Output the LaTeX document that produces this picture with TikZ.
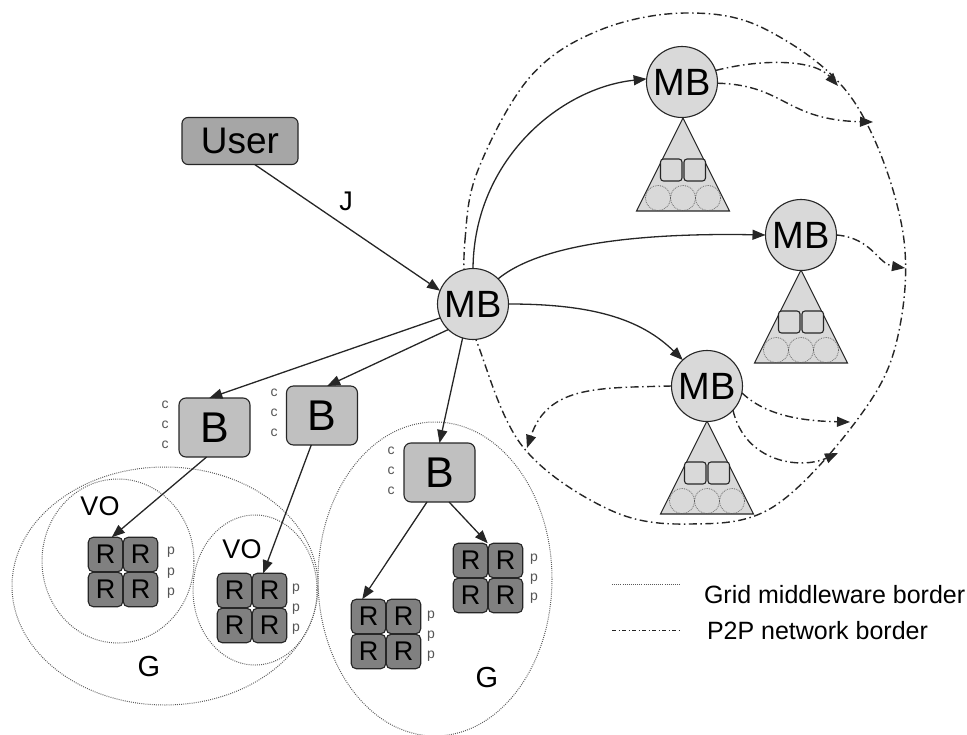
\documentclass[tikz,border=0pt]{standalone}
\usepackage{fontspec}
\setmainfont{Liberation Sans}
\usetikzlibrary{arrows.meta,calc}
\definecolor{mbgray}{HTML}{D9D9D9}
\definecolor{bgray}{HTML}{C0C0C0}
\definecolor{ugray}{HTML}{A6A6A6}
\definecolor{rgray}{HTML}{808080}
\definecolor{edge}{HTML}{262626}
\definecolor{small}{HTML}{555555}

\tikzset{
  every node/.style={inner sep=0pt, outer sep=0pt},
  outline/.style={draw=edge, line width=1.1pt},
  mb/.style={circle, outline, fill=mbgray, minimum size=71pt, font=\fontsize{38}{38}\selectfont},
  bbox/.style={rectangle, rounded corners=7pt, outline, fill=bgray, minimum width=71pt, minimum height=59pt, font=\fontsize{43}{43}\selectfont},
  ubox/.style={rectangle, rounded corners=6pt, outline, fill=ugray, minimum width=116pt, minimum height=47pt, font=\fontsize{37}{37}\selectfont},
  rbox/.style={rectangle, rounded corners=5pt, outline, fill=rgray, minimum size=34.5pt, font=\fontsize{27}{27}\selectfont},
  lbl/.style={font=\fontsize{27}{27}\selectfont},
  glbl/.style={font=\fontsize{29}{29}\selectfont},
  tiny/.style={text=small, font=\fontsize{14}{14}\selectfont},
  legend/.style={font=\fontsize{25}{25}\selectfont, anchor=west},
  link/.style={draw=edge, line width=1.3pt, -{Triangle[length=13pt,width=10pt]}},
  p2p/.style={draw=edge, line width=1.4pt, dash pattern=on 8pt off 3.5pt on 1.5pt off 3.5pt},
  p2plink/.style={p2p, -{Triangle[length=13pt,width=10pt]}},
  grid/.style={draw=black!65, line width=1pt, dash pattern=on 0.9pt off 1.2pt},
  mbtri/.pic={
    \draw[outline, fill=mbgray] (0,0) -- (-46.5,93) -- (46.5,93) -- cycle;
    \draw[outline, fill=mbgray, rounded corners=3pt] (-22.5,41) rectangle (-1,63);
    \draw[outline, fill=mbgray, rounded corners=3pt] (1,41) rectangle (22.5,63);
    \foreach \cx in {-25,0,25}
      \draw[draw=black!65, line width=0.7pt, dash pattern=on 0.8pt off 1pt] (\cx,80) circle[radius=12.6];
  }
}

\newcommand{\rquad}[3]{% name, center x, center y
  \node[rbox] (#1tl) at (#2-17.5,#3-17.5) {R};
  \node[rbox] (#1tr) at (#2+17.5,#3-17.5) {R};
  \node[rbox] (#1bl) at (#2-17.5,#3+17.5) {R};
  \node[rbox] (#1br) at (#2+17.5,#3+17.5) {R};
}

\begin{document}
\begin{tikzpicture}[x=1pt,y=-1pt]
\useasboundingbox (0,0) rectangle (967,735);
\clip (0,0) rectangle (967,735);

% grid middleware borders
\draw[grid] (165,586) ellipse [x radius=153, y radius=119];
\draw[grid] (118,561) ellipse [x radius=76, y radius=82];
\draw[grid] (255,590) ellipse [x radius=62, y radius=75];
\draw[grid] (435,579) ellipse [x radius=117, y radius=157];

% P2P network border
\draw[p2p] plot[smooth cycle, tension=0.6] coordinates {
  (466,300) (465,240) (478,170) (530,77) (600,30) (687,13) (767,30)
  (853,100) (902,227) (897,340) (857,420) (773,507) (690,524)
  (610,510) (523,447) (478,345)};

% peer brokers with their local resources
\pic at (683,118) {mbtri};
\pic at (801,270) {mbtri};
\pic at (707,421) {mbtri};
\node[mb] (mb1) at (682,82) {MB};
\node[mb] (mb2) at (801,235) {MB};
\node[mb] (mb3) at (707,386) {MB};

% main broker and user
\node[mb] (mb) at (473,304) {MB};
\node[ubox] (user) at (240,141) {User};

% grid brokers
\node[bbox] (b1) at (214.5,427.5) {B};
\node[bbox] (b2) at (322,415.5) {B};
\node[bbox] (b3) at (439.5,472.5) {B};

\foreach \n/\x/\ya/\yb/\yc in {c1/165/405/425/445, c2/274/393/413/433, c3/391/451/471/491}{
  \node[tiny] (\n a) at (\x,\ya) {c};
  \node[tiny] (\n b) at (\x,\yb) {c};
  \node[tiny] (\n c) at (\x,\yc) {c};
}

% resources
\rquad{g1}{123}{572}
\rquad{g2}{252}{608}
\rquad{g3}{386}{634}
\rquad{g4}{488}{578}

\foreach \n/\x/\ya/\yb/\yc in {p1/171/552/573/593, p2/296/589/609/629, p3/431/616/636/656, p4/534/559/579/598}{
  \node[tiny] (\n a) at (\x,\ya) {p};
  \node[tiny] (\n b) at (\x,\yb) {p};
  \node[tiny] (\n c) at (\x,\yc) {p};
}

% region labels
\node[lbl] (vo1) at (100,506) {VO};
\node[lbl] (vo2) at (242,549) {VO};
\node[glbl] (ga) at (149,667) {G};
\node[glbl] (gb) at (487,678) {G};
\node[lbl] (jl) at (346,201) {J};

% job submission and delegation
\draw[link] (user.-58) -- (mb.158);
\draw[link] (mb.203) -- (b1.100);
\draw[link] (mb.226) -- (b2.80);
\draw[link] (mb.253) -- (b3.north);
\draw[link] (b1.-105) -- (g1tl.70);
\draw[link] (b2.-110) -- (g2tr.110);
\draw[link] (b3.-113) -- (g3tl.110);
\draw[link] (b3.-72) -- (g4tl.north east);

\draw[link] (mb.90) .. controls (474,160) and (560,88) .. (mb1.175);
\draw[link] (mb.45) .. controls (545,240) and (660,233) .. (mb2.west);
\draw[link] (mb.0) .. controls (590,304) and (640,318) .. (mb3.133);

% forwarding beyond the P2P border
\coordinate (e1) at (838,86);
\coordinate (e2) at (873,122);
\coordinate (e3) at (905,268);
\coordinate (e4) at (850,422);
\coordinate (e5) at (838,453);
\coordinate (e6) at (527,448);
\draw[p2plink] (mb1.19) .. controls (765,58) and (815,60) .. (e1);
\draw[p2plink] (mb1.-2) .. controls (785,85) and (785,120) .. (e2);
\draw[p2plink] (mb2.0) .. controls (872,238) and (878,264) .. (e3);
\draw[p2plink] (mb3.-11) .. controls (765,415) and (800,421) .. (e4);
\draw[p2plink] (mb3.-43) .. controls (745,462) and (800,470) .. (e5);
\draw[p2plink] (mb3.180) .. controls (600,388) and (548,385) .. (e6);

% legend
\coordinate (la) at (612,584);
\coordinate (lb) at (680,584);
\coordinate (lc) at (612,630);
\coordinate (ld) at (680,630);
\draw[grid] (la) -- (lb);
\draw[p2p, line width=0.9pt, dash pattern=on 4pt off 2.5pt on 1pt off 2.5pt] (lc) -- (ld);
\node[legend] (leg1) at (704,595) {Grid middleware border};
\node[legend] (leg2) at (707,631) {P2P network border};
\end{tikzpicture}
\end{document}
